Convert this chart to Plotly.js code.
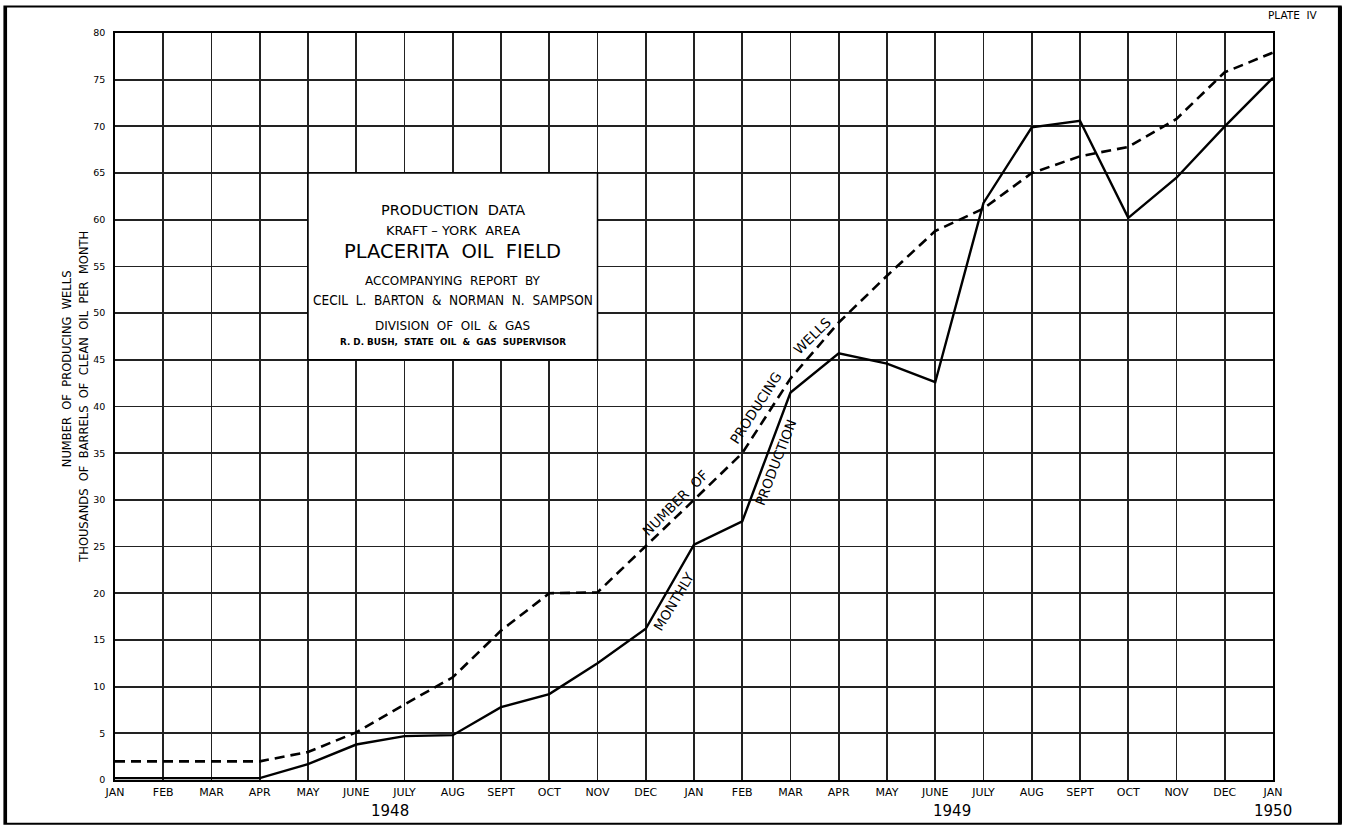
<!DOCTYPE html>
<html>
<head>
<meta charset="utf-8">
<script src="https://cdn.plot.ly/plotly-3.0.1.min.js"></script>
<style>
  html, body { margin: 0; padding: 0; background: #ffffff; }
  #chart { width: 1346px; height: 827px; }
</style>
</head>
<body>
<div id="chart"></div>
<script>
// ---- data ----
const monthLabels = ["JAN","FEB","MAR","APR","MAY","JUNE","JULY","AUG","SEPT","OCT","NOV","DEC",
                     "JAN","FEB","MAR","APR","MAY","JUNE","JULY","AUG","SEPT","OCT","NOV","DEC","JAN"];
const monthIndex = monthLabels.map((m, i) => i);
// thousands of barrels of clean oil per month (solid line)
const monthlyProduction = [0.2,0.2,0.2,0.2,1.7,3.8,4.7,4.8,7.8,9.2,12.5,16.2,
                           25.2,27.7,41.5,45.7,44.6,42.6,61.8,69.9,70.6,60.2,64.5,70.0,75.2];
// number of producing wells (dashed line)
const producingWells = [2,2,2,2,3,5.1,8.1,11,16,20,20.1,25,
                        30,35,43,49,54,58.8,61.2,65,66.8,67.8,70.8,75.8,77.9];
const yearLabels = ["1948","1949","1950"];
const yearPositions = [5.7, 17.35, 24.0];
const yTicks = [0,5,10,15,20,25,30,35,40,45,50,55,60,65,70,75,80];

const FONT = "DejaVu Sans, Verdana, sans-serif";
const NARROW = "Liberation Sans Narrow, DejaVu Sans Condensed, Arial Narrow, sans-serif";
const SP = "\u00a0\u00a0";

const traces = [
  {
    x: monthIndex, y: producingWells, type: "scatter", mode: "lines",
    line: { color: "#000000", width: 2.6, dash: "10px,6px" },
    hoverinfo: "skip", showlegend: false
  },
  {
    x: monthIndex, y: monthlyProduction, type: "scatter", mode: "lines",
    line: { color: "#000000", width: 2.4 },
    hoverinfo: "skip", showlegend: false
  }
];

function boxText(text, y, size, fam) {
  return { xref: "x", yref: "y", x: 7, y: y, text: text, showarrow: false,
           xanchor: "center", yanchor: "middle",
           font: { family: fam || FONT, size: size, color: "#000" } };
}
function lineLabel(text, x, y, angle) {
  return { xref: "x", yref: "y", x: x, y: y, text: text, showarrow: false,
           textangle: angle, xanchor: "center", yanchor: "middle",
           font: { family: FONT, size: 13.5, color: "#000" } };
}

const annotations = [
  boxText("PRODUCTION" + SP + "DATA", 61.0, 14.5),
  boxText("KRAFT\u00a0\u2013\u00a0YORK" + SP + "AREA", 58.9, 13),
  boxText("PLACERITA" + SP + "OIL" + SP + "FIELD", 56.6, 19.5),
  boxText("ACCOMPANYING" + SP + "REPORT" + SP + "BY", 53.4, 12),
  boxText("CECIL\u00a0 L.\u00a0 BARTON\u00a0 &amp;\u00a0 NORMAN\u00a0 N.\u00a0 SAMPSON", 51.4, 13.5, NARROW),
  boxText("DIVISION" + SP + "OF" + SP + "OIL" + SP + "&amp;" + SP + "GAS", 48.6, 12),
  boxText("<b>R.\u00a0D.\u00a0BUSH,\u00a0 STATE\u00a0 OIL\u00a0 &amp;\u00a0 GAS\u00a0 SUPERVISOR</b>", 46.9, 8.8),

  lineLabel("NUMBER\u00a0 OF", 11.6, 29.7, -45),
  lineLabel("PRODUCING", 13.28, 39.8, -57),
  lineLabel("WELLS", 14.44, 47.6, -44),
  lineLabel("MONTHLY", 11.57, 19.1, -59),
  lineLabel("PRODUCTION", 13.68, 34.0, -69),

  // y-axis titles
  { xref: "paper", yref: "paper", x: 0, xshift: -48, y: 0.55, text: "NUMBER" + SP + "OF" + SP + "PRODUCING" + SP + "WELLS",
    showarrow: false, textangle: -90, xanchor: "center", yanchor: "middle",
    font: { family: FONT, size: 11.5, color: "#000" } },
  { xref: "paper", yref: "paper", x: 0, xshift: -31, y: 0.513, text: "THOUSANDS" + SP + "OF" + SP + "BARRELS" + SP + "OF" + SP + "CLEAN" + SP + "OIL" + SP + "PER" + SP + "MONTH",
    showarrow: false, textangle: -90, xanchor: "center", yanchor: "middle",
    font: { family: FONT, size: 11.5, color: "#000" } },

  // plate label
  { xref: "paper", yref: "paper", x: 1.0, xshift: 20, y: 1.0, yshift: 18, text: "PLATE" + SP + "IV",
    showarrow: false, xanchor: "center", yanchor: "middle",
    font: { family: FONT, size: 10.5, color: "#000" } }
];

// year labels under the month axis
yearLabels.forEach((t, i) => {
  annotations.push({ xref: "x", yref: "paper", x: yearPositions[i], y: 0, yshift: -31,
    text: t, showarrow: false, xanchor: "center", yanchor: "middle",
    font: { family: FONT, size: 15, color: "#000" } });
});

const shapes = [
  // title panel covering the grid
  { type: "rect", xref: "x", yref: "y", x0: 4, x1: 10, y0: 45, y1: 65,
    fillcolor: "#ffffff", line: { color: "#000", width: 1.5 }, layer: "above" },
  // outer drawing frame
  { type: "rect", xref: "paper", yref: "paper", x0: -0.0955, x1: 1.0585, y0: -0.0585, y1: 1.0355,
    line: { color: "#000", width: 2 }, layer: "above" },
  { type: "line", xref: "paper", yref: "paper", x0: -0.0945, x1: -0.0945, y0: -0.0585, y1: 1.0355,
    line: { color: "#000", width: 3 }, layer: "above" },
  { type: "line", xref: "paper", yref: "paper", x0: 1.0578, x1: 1.0578, y0: -0.0585, y1: 1.0355,
    line: { color: "#000", width: 4 }, layer: "above" }
];

const layout = {
  width: 1346, height: 827,
  margin: { l: 115, r: 73, t: 33, b: 47, pad: 0 },
  paper_bgcolor: "#ffffff", plot_bgcolor: "#ffffff",
  showlegend: false,
  xaxis: {
    range: [0, 24], tickmode: "array", tickvals: monthIndex, ticktext: monthLabels,
    showgrid: true, gridcolor: "#222222", gridwidth: 1.8,
    showline: true, mirror: true, linecolor: "#000", linewidth: 1.8,
    zeroline: false, ticks: "", ticklabelstandoff: 1,
    tickfont: { family: FONT, size: 11, color: "#000" },
    fixedrange: true
  },
  yaxis: {
    range: [0, 80], tickmode: "array", tickvals: yTicks,
    showgrid: true, gridcolor: "#222222", gridwidth: 1.8,
    showline: true, mirror: true, linecolor: "#000", linewidth: 1.8,
    zeroline: false, ticks: "", ticklabelstandoff: 6,
    tickfont: { family: FONT, size: 9.5, color: "#000" },
    fixedrange: true
  },
  annotations: annotations,
  shapes: shapes
};

Plotly.newPlot("chart", traces, layout, { staticPlot: true, displayModeBar: false });
</script>
</body>
</html>
